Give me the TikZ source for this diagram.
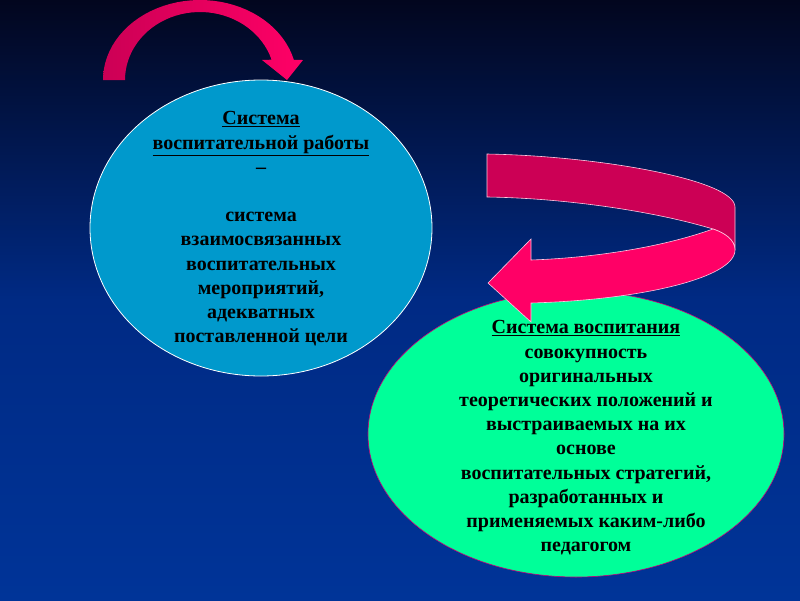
\documentclass[tikz,border=0pt]{standalone}
\usepackage{fontspec}
\setmainfont{Liberation Serif}
\usetikzlibrary{shapes.geometric,positioning}

\definecolor{bgtop}{RGB}{2,6,30}
\definecolor{bgmid}{RGB}{0,42,132}
\definecolor{bgbot}{RGB}{0,52,152}
\definecolor{workblue}{RGB}{0,153,204}
\definecolor{vospgreen}{RGB}{0,255,153}
\definecolor{arrowdark}{RGB}{204,0,85}
\definecolor{arrowpink}{RGB}{255,0,102}
\definecolor{seam}{RGB}{255,200,225}
\definecolor{rim}{RGB}{200,0,120}

\begin{document}
\begin{tikzpicture}[x=1pt,y=-1pt,
  oval/.style={ellipse,inner sep=0pt},
  slidetext/.style={align=center,text=black,
    font=\bfseries\fontsize{20}{24.2}\selectfont}]
  \useasboundingbox (0,0) rectangle (800,600);
  % background
  \shade[top color=bgtop,bottom color=bgmid] (0,0) rectangle (800,300);
  \shade[top color=bgmid,bottom color=bgbot] (0,300) rectangle (800,600);

  % the two systems
  \node[oval,fill=workblue,draw=white,line width=0.8pt,
        minimum width=342pt,minimum height=296pt] (work) at (261,228) {};
  \node[oval,fill=vospgreen,draw=rim,line width=0.6pt,
        minimum width=416pt,minimum height=286pt] (vosp) at (576,434) {};

  \node[slidetext] (worktext) at (261,229)
    {\underline{Система}\\ \underline{воспитательной работы}\\ –\\ \mbox{}\\
     система\\ взаимосвязанных\\ воспитательных\\ мероприятий,\\
     адекватных\\ поставленной цели};
  \node[slidetext] (vosptext) at (586,438)
    {\underline{Система воспитания}\\ совокупность\\ оригинальных\\
     теоретических положений и\\ выстраиваемых на их\\ основе\\
     воспитательных стратегий,\\ разработанных и\\
     применяемых каким-либо\\ педагогом};

  % arrow over the top
  \shade[left color=arrowdark,right color=arrowpink]
    (103,80) -- plot[domain=180:14.5,samples=40,variable=\t]
      ({200+97*cos(\t)},{80-80*sin(\t)})
    -- (303,60) -- (287,80) -- (262,60)
    -- plot[domain=17.4:180,samples=40,variable=\t]
      ({200+75*cos(\t)},{80-68*sin(\t)}) -- cycle;

  % ribbon arrow on the right
  \fill[arrowdark,draw=seam,line width=0.6pt]
    (487,154) .. controls (600,156) and (735,180) .. (735,207)
    -- (735,250) .. controls (735,240) and (725,233) .. (713,229)
    .. controls (650,210) and (560,198) .. (487,197) -- cycle;
  \fill[arrowpink,draw=seam,line width=0.6pt]
    (713,229) .. controls (660,248) and (590,258) .. (531,260)
    -- (531,239) -- (488,283) -- (531,322) -- (531,303)
    .. controls (640,300) and (735,278) .. (735,250)
    .. controls (735,240) and (725,233) .. (713,229) -- cycle;
\end{tikzpicture}
\end{document}
